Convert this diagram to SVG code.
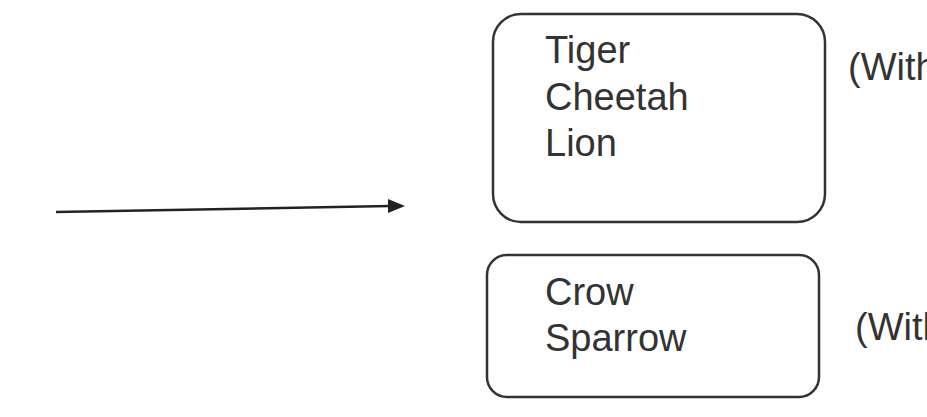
<svg xmlns="http://www.w3.org/2000/svg" width="927" height="417" viewBox="0 0 927 417">
<style>
.box{fill:#fff;stroke:#333;stroke-width:2.5}
.t{font-family:"Liberation Sans",Arial,sans-serif;font-size:38px;fill:#333}
.c{stroke:#222;stroke-width:2.5;fill:none}
</style>
<rect width="927" height="417" fill="#fff"/>
<g id="connectors">
<line class="c" x1="56" y1="212" x2="390" y2="206"/>
<path d="M388,199 L405,206 L388,213 z" fill="#222"/>
</g>
<g id="node-cats">
<rect class="box" x="493" y="14" width="332" height="208" rx="28"/>
<text class="t" x="545" y="63">Tiger</text>
<text class="t" x="545" y="110">Cheetah</text>
<text class="t" x="545" y="156">Lion</text>
</g>
<g id="label-1">
<text class="t" x="848" y="80">(With</text>
</g>
<g id="node-birds">
<rect class="box" x="487" y="255" width="332" height="142" rx="20"/>
<text class="t" x="545" y="305">Crow</text>
<text class="t" x="545" y="351">Sparrow</text>
</g>
<g id="label-2">
<text class="t" x="855" y="340">(With</text>
</g>
</svg>
